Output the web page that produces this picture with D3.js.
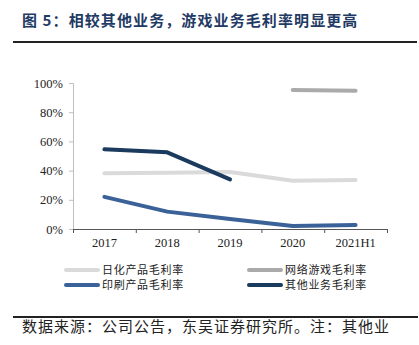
<!DOCTYPE html>
<html><head><meta charset="utf-8">
<script src="https://cdn.jsdelivr.net/npm/d3@7"></script>
<style>body{margin:0;background:#fff}svg{display:block}</style>
</head><body><svg id="c" width="419" height="345"></svg>
<script>
const categories = ["2017","2018","2019","2020","2021H1"];
const yTicks = [0,20,40,60,80,100];
const dailyChem = [38.2,38.6,39.0,33.0,33.6];      // 日化产品毛利率
const onlineGame = [null,null,null,95.2,94.7];     // 网络游戏毛利率
const printing = [22.0,11.9,6.8,2.0,2.7];          // 印刷产品毛利率
const otherBiz = [54.6,52.5,34.0,null,null];       // 其他业务毛利率
const seriesNames = ["日化产品毛利率","网络游戏毛利率","印刷产品毛利率","其他业务毛利率"];
const seriesColors = ["#dadada","#aaaaaa","#3a6298","#1a3a5e"];

const svg = d3.select("#c");
const CJK = "'Noto Sans CJK SC','Noto Sans',sans-serif";
const SERIF = "'Liberation Serif','DejaVu Serif',serif";

// title
svg.append("text").attr("x",22).attr("y",26).attr("font-family",CJK).attr("font-size",15)
  .attr("letter-spacing",1.1).attr("font-weight","bold").attr("fill","#1f3a64").text("图 5：相较其他业务，游戏业务毛利率明显更高");
svg.append("line").attr("x1",13).attr("x2",417).attr("y1",42).attr("y2",42).attr("stroke","#222").attr("stroke-width",2);

const x = d3.scaleBand().domain(categories).range([73,387]);
const y = d3.scaleLinear().domain([0,100]).range([229,83]);

// y axis
const ya = svg.append("g").attr("transform","translate(73,0)")
  .call(d3.axisLeft(y).tickValues(yTicks).tickFormat(d=>d+"%").tickSize(4).tickPadding(6));
ya.select(".domain").attr("stroke","#bfbfbf").attr("d","M-4,83.5H0.5V229");
ya.selectAll(".tick line").attr("stroke","#bfbfbf");
ya.selectAll("text").attr("font-family",SERIF).attr("font-size",12.5).attr("fill","#222");

// x axis
const xa = svg.append("g").attr("transform","translate(0,229)")
  .call(d3.axisBottom(x).tickSize(0).tickPadding(9));
xa.select(".domain").attr("stroke","#555").attr("d","M73,0.5H387");
xa.selectAll("text").attr("font-family",SERIF).attr("font-size",12.5).attr("fill","#222");
const bounds = categories.map(c=>x(c)).concat([387]);
xa.selectAll(".bt").data(bounds).enter().append("line").attr("class","bt")
  .attr("x1",d=>d+0.5).attr("x2",d=>d+0.5).attr("y1",0).attr("y2",4).attr("stroke","#555");

// lines
const allSeries = [dailyChem, onlineGame, printing, otherBiz];
const line = d3.line().defined(d=>d!=null)
  .x((d,i)=>x(categories[i])+x.bandwidth()/2).y(d=>y(d));
allSeries.forEach((s,k)=>{
  svg.append("path").attr("d",line(s)).attr("fill","none")
    .attr("stroke",seriesColors[k]).attr("stroke-width",4).attr("stroke-linecap","round").attr("stroke-linejoin","round");
});

// legend
const legPos = [[66,270],[249,270],[66,285],[249,285]];
seriesNames.forEach((n,k)=>{
  const [lx,ly] = legPos[k];
  svg.append("line").attr("x1",lx).attr("x2",lx+32).attr("y1",ly).attr("y2",ly)
    .attr("stroke",seriesColors[k]).attr("stroke-width",4).attr("stroke-linecap","round");
  svg.append("text").attr("x",lx+36).attr("y",ly+4).attr("font-family",CJK).attr("font-size",11)
    .attr("letter-spacing",0.7).attr("fill","#222").text(n);
});

// footer
svg.append("line").attr("x1",13).attr("x2",418).attr("y1",317).attr("y2",317).attr("stroke","#222").attr("stroke-width",2);
svg.append("text").attr("x",22).attr("y",332).attr("font-family",CJK).attr("font-size",15)
  .attr("letter-spacing",1).attr("fill","#222").text("数据来源：公司公告，东吴证券研究所。注：其他业");
</script></body></html>
